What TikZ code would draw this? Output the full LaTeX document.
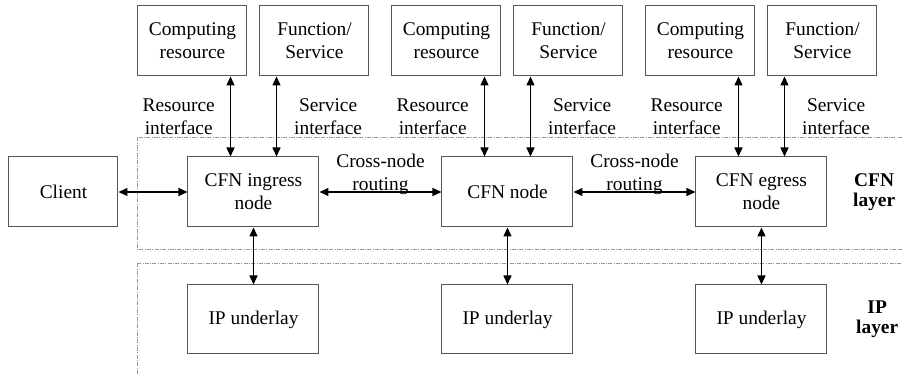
\documentclass[tikz,border=0pt]{standalone}
\usepackage{fontspec}
\setmainfont{Liberation Serif}
\usepackage{tikz}
\usetikzlibrary{arrows.meta, positioning, calc}
\definecolor{boxline}{RGB}{85, 85, 85}
\definecolor{layerline}{RGB}{150, 150, 150}

\begin{document}
\begin{tikzpicture}[
    font=\fontsize{9.7}{11.5}\selectfont,
    cfnbox/.style={rectangle, draw=boxline, line width=0.5pt, minimum width=65.5pt, minimum height=35pt, align=center, inner sep=1pt},
    resbox/.style={rectangle, draw=boxline, line width=0.5pt, minimum width=54.5pt, minimum height=35pt, align=center, inner sep=1pt},
    layerbox/.style={draw=layerline, line width=0.5pt, dash pattern=on 2pt off 0.7pt on 0.4pt off 0.7pt},
    biarrow/.style={{Triangle[length=4.5pt,width=4pt]}-{Triangle[length=4.5pt,width=4pt]}, line width=0.7pt},
    iflabel/.style={align=center, inner sep=0pt},
    layerlabel/.style={align=center, font=\fontsize{9.7}{10.2}\selectfont\bfseries}
]
    \useasboundingbox (-126.75pt,-91pt) rectangle (324.25pt,96pt);

    \node[cfnbox] (ingress) {CFN ingress\\node};
    \node[cfnbox, right=61pt of ingress] (cfn) {CFN node};
    \node[cfnbox, right=61pt of cfn] (egress) {CFN egress\\node};
    \node[resbox, left=34.5pt of ingress] (client) {Client};

    \node[resbox, above=40pt of ingress, xshift=-30.5pt] (comp1) {Computing\\resource};
    \node[resbox, above=40pt of ingress, xshift=30.5pt] (func1) {Function/\\Service};
    \node[resbox, above=40pt of cfn, xshift=-30.5pt] (comp2) {Computing\\resource};
    \node[resbox, above=40pt of cfn, xshift=30.5pt] (func2) {Function/\\Service};
    \node[resbox, above=40pt of egress, xshift=-30.5pt] (comp3) {Computing\\resource};
    \node[resbox, above=40pt of egress, xshift=30.5pt] (func3) {Function/\\Service};

    \node[cfnbox, below=28.5pt of ingress, minimum height=34.5pt] (ip1) {IP underlay};
    \node[cfnbox, below=28.5pt of cfn, minimum height=34.5pt] (ip2) {IP underlay};
    \node[cfnbox, below=28.5pt of egress, minimum height=34.5pt] (ip3) {IP underlay};

    \node[layerlabel, right=9.3pt of egress] (cfnlayer) {CFN\\layer};
    \node[layerlabel, right=10.8pt of ip3] (iplayer) {IP\\layer};

    % layers
    \draw[layerbox] ($(comp1.west |- ingress.north)+(0,9.5pt)$) rectangle ($(ingress.south)+(330pt,-11pt)$);
    \draw[layerbox] ($(comp1.west |- ip1.north)+(0,10.5pt)$) rectangle ($(ip1.south)+(330pt,-12pt)$);

    % interfaces
    \draw[biarrow] ([xshift=-11.5pt]ingress.north) -- ([xshift=-11.5pt]ingress.north |- comp1.south)
        node[midway, left=7.5pt, iflabel] (res1) {Resource\\interface};
    \draw[biarrow] ([xshift=11.5pt]ingress.north) -- ([xshift=11.5pt]ingress.north |- func1.south)
        node[midway, right=8.5pt, iflabel] (svc1) {Service\\interface};
    \draw[biarrow] ([xshift=-11.5pt]cfn.north) -- ([xshift=-11.5pt]cfn.north |- comp2.south)
        node[midway, left=7.5pt, iflabel] (res2) {Resource\\interface};
    \draw[biarrow] ([xshift=11.5pt]cfn.north) -- ([xshift=11.5pt]cfn.north |- func2.south)
        node[midway, right=8.5pt, iflabel] (svc2) {Service\\interface};
    \draw[biarrow] ([xshift=-11.5pt]egress.north) -- ([xshift=-11.5pt]egress.north |- comp3.south)
        node[midway, left=7.5pt, iflabel] (res3) {Resource\\interface};
    \draw[biarrow] ([xshift=11.5pt]egress.north) -- ([xshift=11.5pt]egress.north |- func3.south)
        node[midway, right=8.5pt, iflabel] (svc3) {Service\\interface};

    % routing
    \draw[biarrow] (client) -- (ingress);
    \draw[biarrow] (ingress) -- (cfn)
        node[midway, above, iflabel, yshift=-1.5pt] (route1) {Cross-node\\routing};
    \draw[biarrow] (cfn) -- (egress)
        node[midway, above, iflabel, yshift=-1.5pt] (route2) {Cross-node\\routing};

    % underlay
    \draw[biarrow] (ingress) -- (ip1);
    \draw[biarrow] (cfn) -- (ip2);
    \draw[biarrow] (egress) -- (ip3);
\end{tikzpicture}
\end{document}
